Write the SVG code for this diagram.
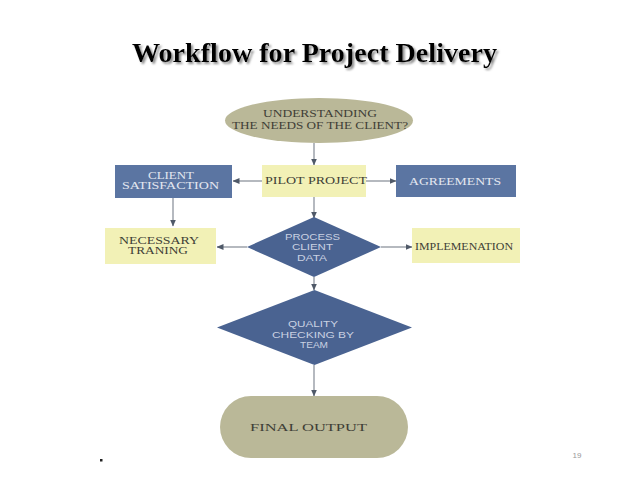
<svg xmlns="http://www.w3.org/2000/svg" width="638" height="479" viewBox="0 0 638 479">
<defs>
<marker id="ah" markerWidth="7" markerHeight="6" refX="6.5" refY="3" orient="auto" markerUnits="userSpaceOnUse">
<path d="M0,0 L7,3 L0,6 Z" fill="#4f5968"/>
</marker>
<filter id="shadow" x="-5%" y="-20%" width="110%" height="150%">
<feDropShadow dx="2" dy="2" stdDeviation="0.8" flood-color="#808080" flood-opacity="0.9"/>
</filter>
<style>
.conn{stroke:#a3a8b0;stroke-width:1.6;fill:none;marker-end:url(#ah)}
.blue{fill:#5b75a2}
.dia{fill:#4a6391}
.yel{fill:#f2f1b6}
.khaki{fill:#bab898}
.serif{font-family:"Liberation Serif","DejaVu Serif",serif;font-size:10.5px;text-anchor:middle;dominant-baseline:central}
.dark{fill:#3f3f37}
.light{fill:#e3e7f0}
.sans{font-family:"Liberation Sans","DejaVu Sans",sans-serif;font-size:9.5px;text-anchor:middle;dominant-baseline:central;fill:#c9d1e2}
.title{font-family:"Liberation Serif","Times New Roman",serif;font-size:27px;font-weight:bold}
</style>
</defs>
<rect width="638" height="479" fill="#ffffff"/>
<g id="title">
<text class="title" x="132" y="62" textLength="365" lengthAdjust="spacingAndGlyphs" fill="#000000" filter="url(#shadow)">Workflow for Project Delivery</text>
</g>
<g id="connectors">
<line class="conn" x1="314" y1="143" x2="314" y2="165"/>
<line class="conn" x1="262" y1="181" x2="233" y2="181"/>
<line class="conn" x1="366" y1="181" x2="396" y2="181"/>
<line class="conn" x1="173" y1="198" x2="173" y2="226"/>
<line class="conn" x1="314" y1="197" x2="314" y2="218"/>
<line class="conn" x1="247" y1="247" x2="217" y2="247"/>
<line class="conn" x1="381" y1="247" x2="412" y2="247"/>
<line class="conn" x1="314" y1="277" x2="314" y2="290"/>
<line class="conn" x1="314" y1="365" x2="314" y2="396"/>
</g>
<g id="understanding">
<ellipse class="khaki" cx="319" cy="120.5" rx="94" ry="22.5"/>
<text class="serif dark" x="320" y="113.5" textLength="114" lengthAdjust="spacingAndGlyphs">UNDERSTANDING</text>
<text class="serif dark" x="320" y="125" textLength="176" lengthAdjust="spacingAndGlyphs">THE NEEDS OF THE CLIENT?</text>
</g>
<g id="pilot">
<rect class="yel" x="262" y="165" width="104" height="32"/>
<text class="serif dark" x="316" y="180" textLength="102" lengthAdjust="spacingAndGlyphs">PILOT PROJECT</text>
</g>
<g id="client-satisfaction">
<rect class="blue" x="115" y="165" width="117" height="33"/>
<text class="serif light" x="171" y="175" textLength="46" lengthAdjust="spacingAndGlyphs">CLIENT</text>
<text class="serif light" x="170.5" y="185.5" textLength="97" lengthAdjust="spacingAndGlyphs">SATISFACTION</text>
</g>
<g id="agreements">
<rect class="blue" x="396" y="165" width="120" height="32"/>
<text class="serif light" x="455" y="181" textLength="92" lengthAdjust="spacingAndGlyphs">AGREEMENTS</text>
</g>
<g id="necessary-training">
<rect class="yel" x="105" y="228" width="111" height="36"/>
<text class="serif dark" x="159" y="240.5" textLength="80" lengthAdjust="spacingAndGlyphs">NECESSARY</text>
<text class="serif dark" x="158" y="250.5" textLength="60" lengthAdjust="spacingAndGlyphs">TRANING</text>
</g>
<g id="implementation">
<rect class="yel" x="412" y="228" width="108" height="35"/>
<text class="serif dark" x="464" y="246" textLength="98" lengthAdjust="spacingAndGlyphs">IMPLEMENATION</text>
</g>
<g id="process">
<polygon class="dia" points="314,217 381,247 314,277 247,247"/>
<text class="sans" x="312.5" y="236" textLength="55" lengthAdjust="spacingAndGlyphs">PROCESS</text>
<text class="sans" x="312.5" y="246.5" textLength="41" lengthAdjust="spacingAndGlyphs">CLIENT</text>
<text class="sans" x="312" y="257" textLength="30" lengthAdjust="spacingAndGlyphs">DATA</text>
</g>
<g id="quality">
<polygon class="dia" points="314.5,290 412,327.5 314.5,365 217,327.5"/>
<text class="sans" x="313" y="323" textLength="50" lengthAdjust="spacingAndGlyphs">QUALITY</text>
<text class="sans" x="313" y="334" textLength="82" lengthAdjust="spacingAndGlyphs">CHECKING BY</text>
<text class="sans" x="314" y="344" textLength="28" lengthAdjust="spacingAndGlyphs">TEAM</text>
</g>
<g id="final-output">
<rect class="khaki" x="220" y="396" width="188" height="62" rx="31" ry="31"/>
<text class="serif dark" x="308.5" y="427" textLength="117" lengthAdjust="spacingAndGlyphs" style="font-size:11px">FINAL OUTPUT</text>
</g>
<g id="footer">
<rect x="100" y="459" width="2.5" height="2.5" fill="#222"/>
<text x="577" y="458" font-family="Liberation Sans, sans-serif" font-size="8" fill="#9a9a9a" text-anchor="middle">19</text>
</g>
</svg>
